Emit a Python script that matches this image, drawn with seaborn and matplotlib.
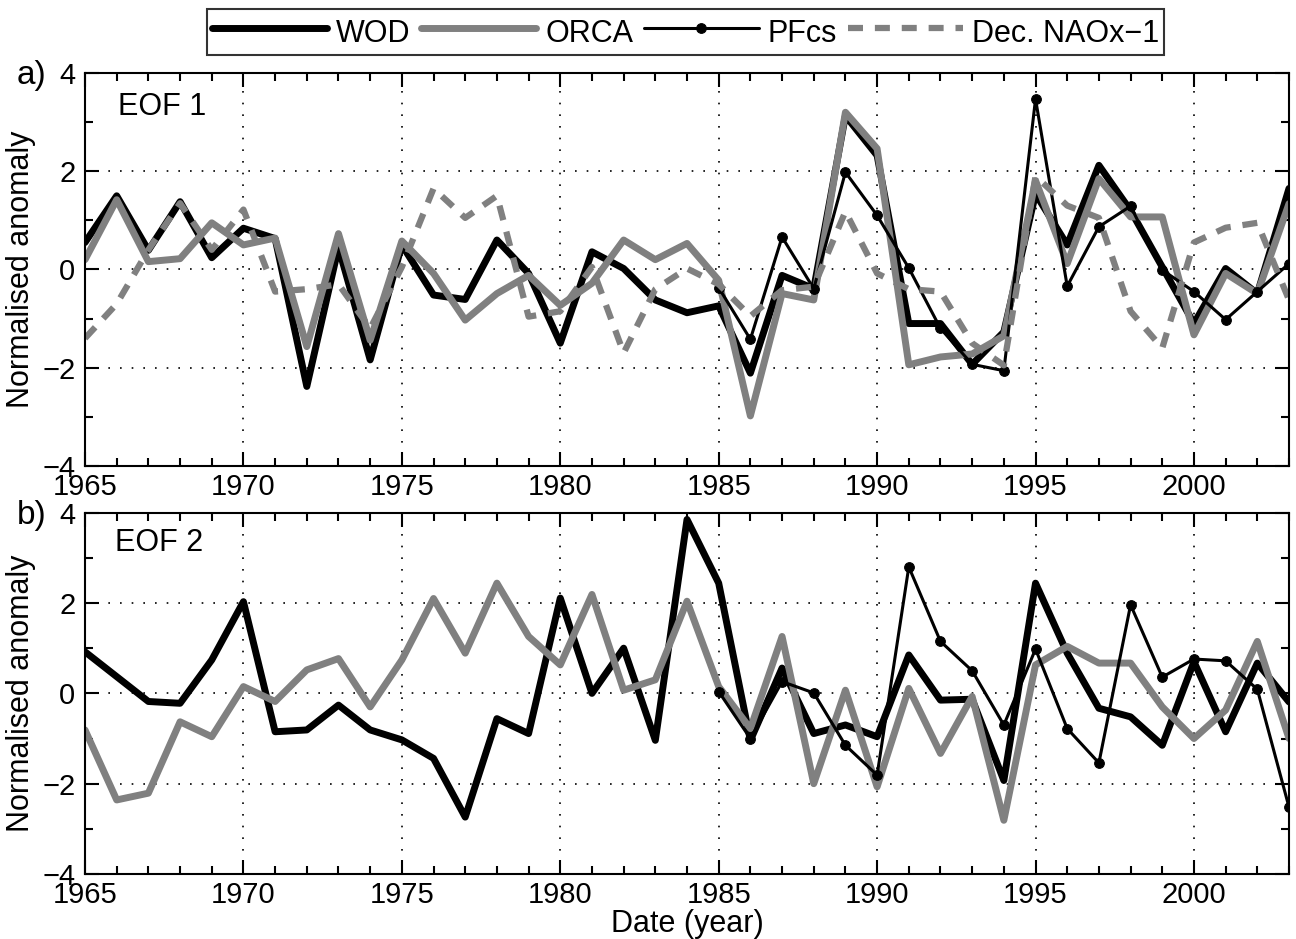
import numpy as np
import pandas as pd
import matplotlib
matplotlib.use('Agg')
import matplotlib.pyplot as plt
import seaborn as sns

sns.set_style('ticks')
plt.rcParams['font.family'] = ['Liberation Sans', 'DejaVu Sans']
plt.rcParams['text.color'] = 'k'
plt.rcParams['axes.labelcolor'] = 'k'
plt.rcParams['axes.edgecolor'] = 'k'
plt.rcParams['xtick.color'] = 'k'
plt.rcParams['ytick.color'] = 'k'

years = list(range(1965, 2004))
pf_years = list(range(1985, 2004))

# EOF 1
wod1 = [0.55, 1.5, 0.39, 1.38, 0.24, 0.84, 0.63, -2.38, 0.45, -1.84,
        0.5, -0.52, -0.61, 0.6, -0.08, -1.5, 0.36, 0.02, -0.62, -0.88,
        -0.74, -2.11, -0.12, -0.39, 3.13, 2.32, -1.1, -1.1, -1.93, -1.27,
        1.54, 0.5, 2.12, 1.2, 0.05, -1.1, 0.02, -0.49, 1.65]
orca1 = [0.2, 1.42, 0.16, 0.22, 0.95, 0.5, 0.64, -1.57, 0.73, -1.44,
         0.58, -0.08, -1.03, -0.49, -0.12, -0.73, -0.28, 0.6, 0.2, 0.53,
         -0.22, -2.98, -0.49, -0.62, 3.2, 2.46, -1.94, -1.78, -1.72, -1.35,
         1.81, 0.12, 1.85, 1.07, 1.07, -1.33, -0.08, -0.49, 1.34]
pfcs1 = [-0.37, -1.42, 0.66, -0.39, 1.98, 1.1, 0.03, -1.2, -1.93, -2.06,
         3.47, -0.34, 0.87, 1.29, -0.01, -0.45, -1.02, -0.45, 0.12]
nao1 = [-1.4, -0.7, 0.4, 1.35, 0.4, 1.22, -0.45, -0.4, -0.3, -1.2,
        0.05, 1.65, 1.05, 1.5, -0.96, -0.85, 0.05, -1.7, -0.4, 0.02,
        -0.3, -0.95, -0.42, -0.35, 1.18, -0.08, -0.4, -0.45, -1.5, -1.95,
        1.9, 1.3, 1.05, -0.85, -1.6, 0.55, 0.85, 0.95, -0.62]

# EOF 2
wod2 = [0.92, 0.37, -0.18, -0.22, 0.74, 2.03, -0.85, -0.81, -0.26, -0.81,
        -1.03, -1.44, -2.74, -0.56, -0.89, 2.11, 0.0, 1.0, -1.04, 3.85,
        2.44, -1.04, 0.56, -0.89, -0.7, -0.96, 0.85, -0.15, -0.13, -1.93,
        2.44, 0.89, -0.33, -0.52, -1.15, 0.7, -0.85, 0.67, -0.19]
orca2 = [-0.81, -2.36, -2.21, -0.63, -0.96, 0.15, -0.18, 0.52, 0.77, -0.3,
         0.74, 2.1, 0.89, 2.44, 1.26, 0.63, 2.19, 0.07, 0.3, 2.04,
         0.15, -0.78, 1.26, -2.0, 0.07, -2.07, 0.11, -1.33, -0.07, -2.81,
         0.63, 1.04, 0.67, 0.67, -0.3, -1.0, -0.37, 1.15, -1.0]
pfcs2 = [0.04, -1.0, 0.26, 0.01, -1.15, -1.81, 2.8, 1.15, 0.5, -0.7,
         0.98, -0.78, -1.54, 1.96, 0.36, 0.76, 0.72, 0.09, -2.52]

grey = '#808080'
fs = 21

fig = plt.figure(figsize=(12.96, 9.39), dpi=100)
ax1 = fig.add_axes([0.0656, 0.5037, 0.929, 0.4186])
ax2 = fig.add_axes([0.0656, 0.0692, 0.929, 0.3848])


def draw_panel(ax, wod, orca, pfcs, nao=None):
    sns.lineplot(x=years, y=wod, ax=ax, color='k', lw=5, label='WOD')
    sns.lineplot(x=years, y=orca, ax=ax, color=grey, lw=5, label='ORCA')
    sns.lineplot(x=pf_years, y=pfcs, ax=ax, color='k', lw=2.2,
                 marker='o', markersize=7, markeredgecolor='k', label='PFcs')
    if nao is not None:
        sns.lineplot(x=years, y=nao, ax=ax, color=grey, lw=4.5,
                     linestyle=(0, (2.4, 1.9)), label='Dec. NAOx\u22121')
    if ax.get_legend() is not None:
        ax.get_legend().remove()

    ax.set_xlim(1965, 2003)
    ax.set_ylim(-4, 4)
    ax.set_xticks(range(1965, 2001, 5))
    ax.set_xticks(range(1965, 2004), minor=True)
    ax.set_yticks([-4, -2, 0, 2, 4])
    ax.set_yticks([-3, -1, 1, 3], minor=True)
    ax.tick_params(which='both', direction='in', top=True, right=True,
                   width=1.5, labelsize=fs)
    ax.tick_params(which='major', length=10)
    ax.tick_params(which='minor', length=6)
    ax.tick_params(axis='x', pad=5)
    ax.tick_params(axis='y', pad=7)
    ax.grid(True, which='major', color='k', lw=1.2, ls=(0, (1, 6)))
    for s in ax.spines.values():
        s.set_linewidth(1.5)
    ax.set_ylabel('Normalised anomaly', fontsize=fs + 1, labelpad=4)
    ax.set_xlabel('')


draw_panel(ax1, wod1, orca1, pfcs1, nao1)
draw_panel(ax2, wod2, orca2, pfcs2)
ax2.set_xlabel('Date (year)', fontsize=fs + 1, labelpad=0)

ax1.text(0.027, 0.914, 'EOF 1', transform=ax1.transAxes, fontsize=fs + 1, va='center')
ax2.text(0.025, 0.916, 'EOF 2', transform=ax2.transAxes, fontsize=fs + 1, va='center')
fig.text(0.013, 0.92, 'a)', fontsize=fs + 3, va='center')
fig.text(0.013, 0.451, 'b)', fontsize=fs + 3, va='center')

handles, labels = ax1.get_legend_handles_labels()
leg = fig.legend(handles, labels, loc='center', bbox_to_anchor=(0.529, 0.966),
                 ncol=4, fontsize=22, frameon=True, fancybox=False,
                 handlelength=3.75, handleheight=1.5, handletextpad=0.3,
                 columnspacing=0.36, borderpad=0.15, borderaxespad=0)
leg.get_frame().set_edgecolor('k')
leg.get_frame().set_linewidth(1.5)

fig.savefig('out.png', dpi=100)
